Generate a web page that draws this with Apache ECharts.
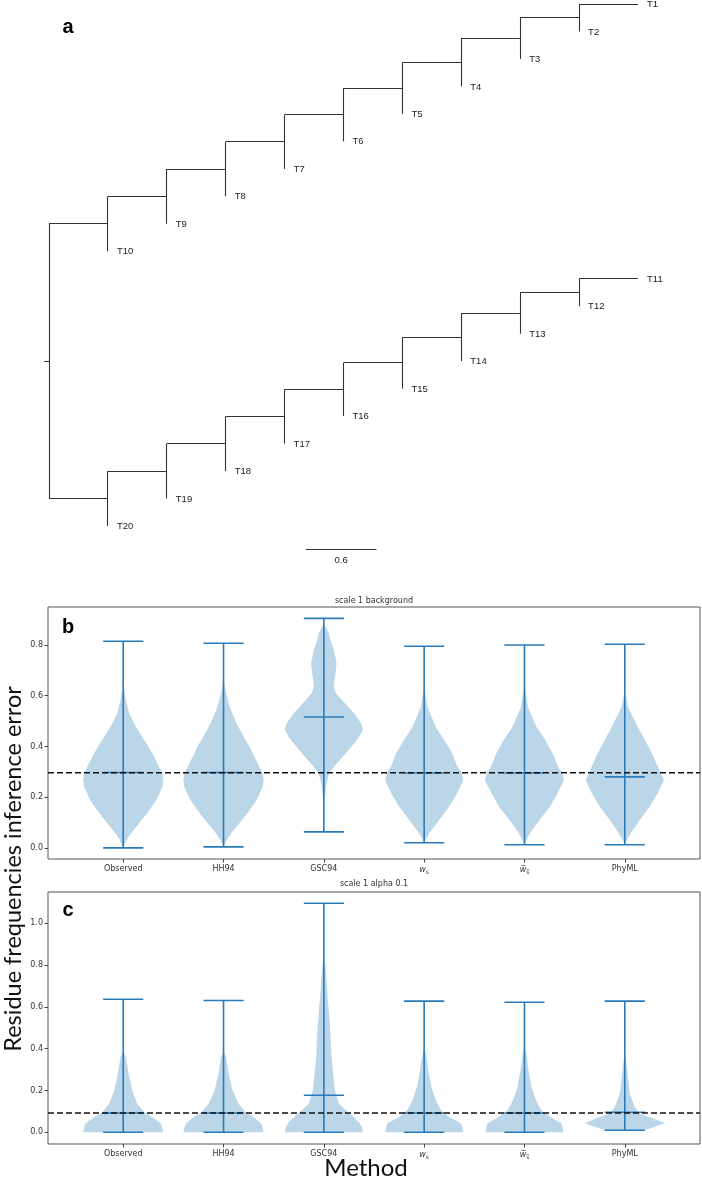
<!DOCTYPE html>
<html><head><meta charset="utf-8">
<script src="https://cdn.jsdelivr.net/npm/echarts@6/dist/echarts.min.js"></script>
<style>html,body{margin:0;padding:0;background:#fff}#c{width:702px;height:1181px}</style>
</head><body><div id="c"></div><script>
// ---------------- DATA ----------------
// Panel a: tree (Newick, branch lengths)
const treeNewick = '((((((((((T1:0.5,T2:0):0.5,T3:0):0.5,T4:0):0.5,T5:0):0.5,T6:0):0.5,T7:0):0.5,T8:0):0.5,T9:0):0.5,T10:0):0.5,(((((((((T11:0.5,T12:0):0.5,T13:0):0.5,T14:0):0.5,T15:0):0.5,T16:0):0.5,T17:0):0.5,T18:0):0.5,T19:0):0.5,T20:0):0.5):0.04;';
const scaleBarLength = 0.6;

// Panels b, c: violins
const methods = ['Observed', 'HH94', 'GSC94', 'w_s', 'w̄_s', 'PhyML'];
const methodLabels = ['Observed', 'HH94', 'GSC94', '{it|w}{sub|s}', '{it|w\u0305}{sub|s\u0305}', 'PhyML'];
const positions = [1, 2, 3, 4, 5, 6];
const yTicksB = [0, 0.2, 0.4, 0.6, 0.8];
const yTicksC = [0, 0.2, 0.4, 0.6, 0.8, 1.0];

// panel b  (scale 1 background)
const bMin  = [0.0, 0.004, 0.063, 0.02, 0.012, 0.012];
const bMax  = [0.815, 0.807, 0.905, 0.795, 0.80, 0.803];
const bMean = [0.297, 0.297, 0.516, 0.295, 0.295, 0.28];
const bRef  = 0.296;
// density profiles: [value, half width]
const bObserved = [[0.0,0],[0.01,0.015],[0.032,0.035],[0.059,0.08],[0.098,0.16],[0.137,0.24],[0.189,0.33],[0.24,0.39],[0.268,0.40],[0.294,0.39],[0.334,0.34],[0.373,0.29],[0.40,0.25],[0.425,0.21],[0.477,0.127],[0.531,0.06],[0.583,0.027],[0.62,0.012],[0.665,0]];
const bHH94     = [[0.004,0],[0.012,0.012],[0.03,0.03],[0.06,0.08],[0.098,0.16],[0.137,0.24],[0.189,0.33],[0.24,0.39],[0.27,0.40],[0.294,0.39],[0.334,0.34],[0.373,0.29],[0.40,0.26],[0.425,0.22],[0.49,0.13],[0.55,0.067],[0.60,0.03],[0.65,0.006],[0.68,0]];
const bGSC94    = [[0.17,0],[0.2,0.01],[0.255,0.027],[0.294,0.05],[0.334,0.13],[0.373,0.22],[0.425,0.33],[0.465,0.39],[0.492,0.37],[0.531,0.30],[0.583,0.18],[0.61,0.12],[0.635,0.10],[0.66,0.105],[0.689,0.117],[0.728,0.127],[0.78,0.10],[0.819,0.067],[0.846,0.05],[0.886,0]];
const bWs       = [[0.02,0],[0.03,0.012],[0.058,0.05],[0.11,0.15],[0.163,0.25],[0.216,0.33],[0.268,0.39],[0.30,0.37],[0.32,0.33],[0.373,0.28],[0.425,0.20],[0.477,0.117],[0.555,0.033],[0.62,0.008],[0.65,0]];
const bWsBar    = [[0.012,0],[0.025,0.012],[0.058,0.055],[0.11,0.15],[0.163,0.255],[0.216,0.33],[0.268,0.395],[0.30,0.37],[0.32,0.335],[0.373,0.28],[0.425,0.207],[0.477,0.12],[0.555,0.035],[0.62,0.008],[0.655,0]];
const bPhyML    = [[0.012,0],[0.02,0.006],[0.058,0.06],[0.11,0.15],[0.163,0.25],[0.216,0.33],[0.268,0.39],[0.32,0.33],[0.373,0.27],[0.425,0.20],[0.477,0.13],[0.555,0.033],[0.60,0.01],[0.635,0]];
const bProfiles = [bObserved, bHH94, bGSC94, bWs, bWsBar, bPhyML];

// panel c  (scale 1 alpha 0.1)
const cMin  = [0.0, 0.0, 0.0, 0.0, 0.0, 0.01];
const cMax  = [0.636, 0.63, 1.095, 0.627, 0.622, 0.627];
const cMean = [0.092, 0.092, 0.177, 0.092, 0.092, 0.096];
const cRef  = 0.092;
const cObserved = [[0,0.40],[0.02,0.39],[0.042,0.377],[0.072,0.29],[0.096,0.21],[0.137,0.14],[0.2,0.09],[0.282,0.053],[0.36,0.027],[0.39,0]];
const cHH94     = [[0,0.40],[0.02,0.39],[0.042,0.375],[0.072,0.30],[0.096,0.22],[0.137,0.15],[0.2,0.09],[0.282,0.05],[0.36,0.025],[0.39,0]];
const cGSC94    = [[0,0.39],[0.02,0.38],[0.042,0.36],[0.072,0.30],[0.105,0.22],[0.137,0.15],[0.2,0.11],[0.36,0.077],[0.52,0.06],[0.63,0.04],[0.79,0.017],[0.84,0]];
const cWs       = [[0,0.39],[0.02,0.38],[0.042,0.37],[0.073,0.25],[0.104,0.17],[0.152,0.117],[0.215,0.073],[0.297,0.04],[0.377,0.017],[0.41,0]];
const cWsBar    = [[0,0.39],[0.02,0.38],[0.042,0.37],[0.073,0.26],[0.104,0.17],[0.152,0.115],[0.215,0.07],[0.297,0.04],[0.377,0.017],[0.41,0]];
const cPhyML    = [[0.01,0.20],[0.043,0.40],[0.067,0.28],[0.09,0.15],[0.12,0.10],[0.185,0.05],[0.28,0.027],[0.39,0]];
const cProfiles = [cObserved, cHH94, cGSC94, cWs, cWsBar, cPhyML];

// ---------------- LAYOUT / STYLE ----------------
const xLim = [0.25, 6.75];
const yLimB = [-0.044, 0.95];
const yLimC = [-0.056, 1.149];
const capHalf = 0.2;
const violinFill = 'rgba(31,119,180,0.3)';
const violinLine = '#2a7ab8';
const tickFont = 'DejaVu Sans';
const scaleBarPos = [2.18, 20.84];

// ---------------- TREE LAYOUT ----------------
function parseNewick(s) {
  let i = 0;
  function node() {
    const n = { children: [], name: '', len: 0 };
    if (s[i] === '(') {
      i++;
      n.children.push(node());
      while (s[i] === ',') { i++; n.children.push(node()); }
      i++;
    }
    let name = '';
    while (i < s.length && !',():;'.includes(s[i])) name += s[i++];
    n.name = name;
    if (s[i] === ':') {
      i++;
      let num = '';
      while (i < s.length && !',();'.includes(s[i])) num += s[i++];
      n.len = parseFloat(num);
    }
    return n;
  }
  return node();
}
const tree = parseNewick(treeNewick);
let tipCounter = 0;
const segments = [];
const tips = [];
function layout(n, x) {
  n.x = x;
  if (!n.children.length) {
    n.y = ++tipCounter;
    tips.push([n.x, n.y, n.name]);
    return;
  }
  n.children.forEach(c => layout(c, x + c.len));
  const ys = n.children.map(c => c.y);
  n.y = (Math.min(...ys) + Math.max(...ys)) / 2;
  segments.push([n.x, Math.min(...ys), n.x, Math.max(...ys)]);
  n.children.forEach(c => { if (c.x > n.x) segments.push([n.x, c.y, c.x, c.y]); });
}
layout(tree, 0);
segments.push([-tree.len, tree.y, 0, tree.y]);

// ---------------- CHART ----------------
const chart = echarts.init(document.getElementById('c'), null, { renderer: 'canvas' });

function crisp(v) { return Math.round(v - 0.5) + 0.5; }

function violinSeries(ai, profiles) {
  return {
    type: 'custom', xAxisIndex: ai, yAxisIndex: ai, silent: true, z: 2, clip: false,
    data: positions.map((p, i) => [p, i]),
    renderItem: (params, api) => {
      const pos = api.value(0);
      const prof = profiles[api.value(1)];
      const left = prof.map(([v, w]) => api.coord([pos - w, v]));
      const right = prof.slice().reverse().map(([v, w]) => api.coord([pos + w, v]));
      return { type: 'polygon', shape: { points: left.concat(right) }, style: { fill: violinFill } };
    }
  };
}
function statSeries(ai, mins, maxs, means) {
  return {
    type: 'custom', xAxisIndex: ai, yAxisIndex: ai, silent: true, z: 3, clip: false,
    data: positions.map((p, i) => [p, mins[i], maxs[i], means[i]]),
    renderItem: (params, api) => {
      const p = api.value(0), lo = api.value(1), hi = api.value(2), mu = api.value(3);
      const seg = (x1, y1, x2, y2) => {
        const a = api.coord([x1, y1]), b = api.coord([x2, y2]);
        return { type: 'line', shape: { x1: a[0], y1: a[1], x2: b[0], y2: b[1] }, style: { stroke: violinLine, lineWidth: 1.6 } };
      };
      return { type: 'group', children: [
        seg(p, lo, p, hi), seg(p - capHalf, hi, p + capHalf, hi),
        seg(p - capHalf, lo, p + capHalf, lo), seg(p - capHalf, mu, p + capHalf, mu)
      ] };
    }
  };
}
function refSeries(ai, ref) {
  return {
    type: 'line', xAxisIndex: ai, yAxisIndex: ai, silent: true, z: 5, symbol: 'none',
    data: [[xLim[0], ref], [xLim[1], ref]],
    lineStyle: { color: '#111', width: 1.5, type: [6, 3] }
  };
}
function methodXAxis(gi) {
  return {
    gridIndex: gi, type: 'value', min: xLim[0], max: xLim[1],
    axisLine: { show: false, onZero: false },
    splitLine: { show: false },
    axisTick: { show: true, customValues: positions, length: 3.5, lineStyle: { color: '#444', width: 1 } },
    axisLabel: {
      customValues: positions, margin: 6, fontSize: 8, color: '#333', fontFamily: tickFont,
      formatter: v => methodLabels[Math.round(v) - 1],
      rich: {
        it: { fontStyle: 'italic', fontSize: 8, fontFamily: tickFont, color: '#333' },
        sub: { fontSize: 6, fontFamily: tickFont, color: '#333', verticalAlign: 'bottom', padding: [4, 0, 0, 0] }
      }
    }
  };
}
function valueYAxis(gi, lim, ticks) {
  return {
    gridIndex: gi, type: 'value', min: lim[0], max: lim[1],
    axisLine: { show: false, onZero: false },
    splitLine: { show: false },
    axisTick: { show: true, customValues: ticks, length: 3.5, lineStyle: { color: '#444', width: 1 } },
    axisLabel: { customValues: ticks, margin: 5, fontSize: 8, color: '#333', fontFamily: tickFont, formatter: v => v.toFixed(1) }
  };
}

const option = {
  animation: false,
  backgroundColor: '#fff',
  grid: [
    { left: 49, top: 4, width: 589, height: 522, show: false },
    { left: 48, top: 607, width: 652, height: 252, show: true, borderColor: '#555', borderWidth: 1, backgroundColor: 'transparent' },
    { left: 48, top: 892, width: 652, height: 252, show: true, borderColor: '#555', borderWidth: 1, backgroundColor: 'transparent' }
  ],
  xAxis: [
    { gridIndex: 0, type: 'value', min: 0, max: 5, show: false },
    methodXAxis(1), methodXAxis(2)
  ],
  yAxis: [
    { gridIndex: 0, type: 'value', min: 1, max: 20, inverse: true, show: false },
    valueYAxis(1, yLimB, yTicksB), valueYAxis(2, yLimC, yTicksC)
  ],
  graphic: [
    { type: 'text', x: 68, y: 27.5, style: { text: 'a', font: 'bold 20px "Liberation Sans", Arial', fill: '#000', textAlign: 'center', textVerticalAlign: 'middle', align: 'center', verticalAlign: 'middle' } },
    { type: 'text', x: 68, y: 627.5, z: 10, style: { text: 'b', font: 'bold 20px "Liberation Sans", Arial', fill: '#000', textAlign: 'center', textVerticalAlign: 'middle', align: 'center', verticalAlign: 'middle' } },
    { type: 'text', x: 68, y: 910.5, z: 10, style: { text: 'c', font: 'bold 20px "Liberation Sans", Arial', fill: '#000', textAlign: 'center', textVerticalAlign: 'middle', align: 'center', verticalAlign: 'middle' } },
    { type: 'text', x: 374, y: 601, style: { text: 'scale 1 background', font: '8px "DejaVu Sans"', fill: '#333', textAlign: 'center', textVerticalAlign: 'middle', align: 'center', verticalAlign: 'middle' } },
    { type: 'text', x: 374, y: 884, style: { text: 'scale 1 alpha 0.1', font: '8px "DejaVu Sans"', fill: '#333', textAlign: 'center', textVerticalAlign: 'middle', align: 'center', verticalAlign: 'middle' } },
    { type: 'text', x: 13, y: 869, rotation: Math.PI / 2, style: { text: 'Residue frequencies inference error', font: '23.5px Lato', fill: '#111', textAlign: 'center', textVerticalAlign: 'middle', align: 'center', verticalAlign: 'middle' } },
    { type: 'text', x: 366, y: 1168, style: { text: 'Method', font: '24px Lato', fill: '#111', textAlign: 'center', textVerticalAlign: 'middle', align: 'center', verticalAlign: 'middle' } }
  ],
  series: [
    {
      type: 'custom', xAxisIndex: 0, yAxisIndex: 0, silent: true, clip: false,
      data: segments,
      renderItem: (params, api) => {
        const a = api.coord([api.value(0), api.value(1)]);
        const b = api.coord([api.value(2), api.value(3)]);
        const vert = Math.abs(a[0] - b[0]) < 0.01;
        const x1 = vert ? crisp(a[0]) : a[0], x2 = vert ? crisp(b[0]) : b[0];
        const y1 = vert ? a[1] : crisp(a[1]), y2 = vert ? b[1] : crisp(b[1]);
        return { type: 'line', shape: { x1, y1, x2, y2 }, style: { stroke: '#333', lineWidth: 1.1 } };
      }
    },
    {
      type: 'custom', xAxisIndex: 0, yAxisIndex: 0, silent: true, clip: false,
      data: tips,
      renderItem: (params, api) => {
        const a = api.coord([api.value(0), api.value(1)]);
        return { type: 'text', x: a[0] + 9, y: a[1] + 0.5, style: { text: tips[params.dataIndex][2], font: '9.5px "Liberation Sans", Arial', fill: '#222', align: 'left', verticalAlign: 'middle' } };
      }
    },
    {
      type: 'custom', xAxisIndex: 0, yAxisIndex: 0, silent: true, clip: false,
      data: [[scaleBarPos[0], scaleBarPos[1], scaleBarLength]],
      renderItem: (params, api) => {
        const x0 = api.value(0), y0 = api.value(1), len = api.value(2);
        const a = api.coord([x0, y0]), b = api.coord([x0 + len, y0]);
        return { type: 'group', children: [
          { type: 'line', shape: { x1: a[0], y1: crisp(a[1]), x2: b[0], y2: crisp(b[1]) }, style: { stroke: '#333', lineWidth: 1.1 } },
          { type: 'text', x: (a[0] + b[0]) / 2, y: a[1] + 11.5, style: { text: String(len), font: '9.5px "Liberation Sans", Arial', fill: '#222', align: 'center', verticalAlign: 'middle' } }
        ] };
      }
    },
    violinSeries(1, bProfiles), statSeries(1, bMin, bMax, bMean), refSeries(1, bRef),
    violinSeries(2, cProfiles), statSeries(2, cMin, cMax, cMean), refSeries(2, cRef)
  ]
};
chart.setOption(option);
</script></body></html>
